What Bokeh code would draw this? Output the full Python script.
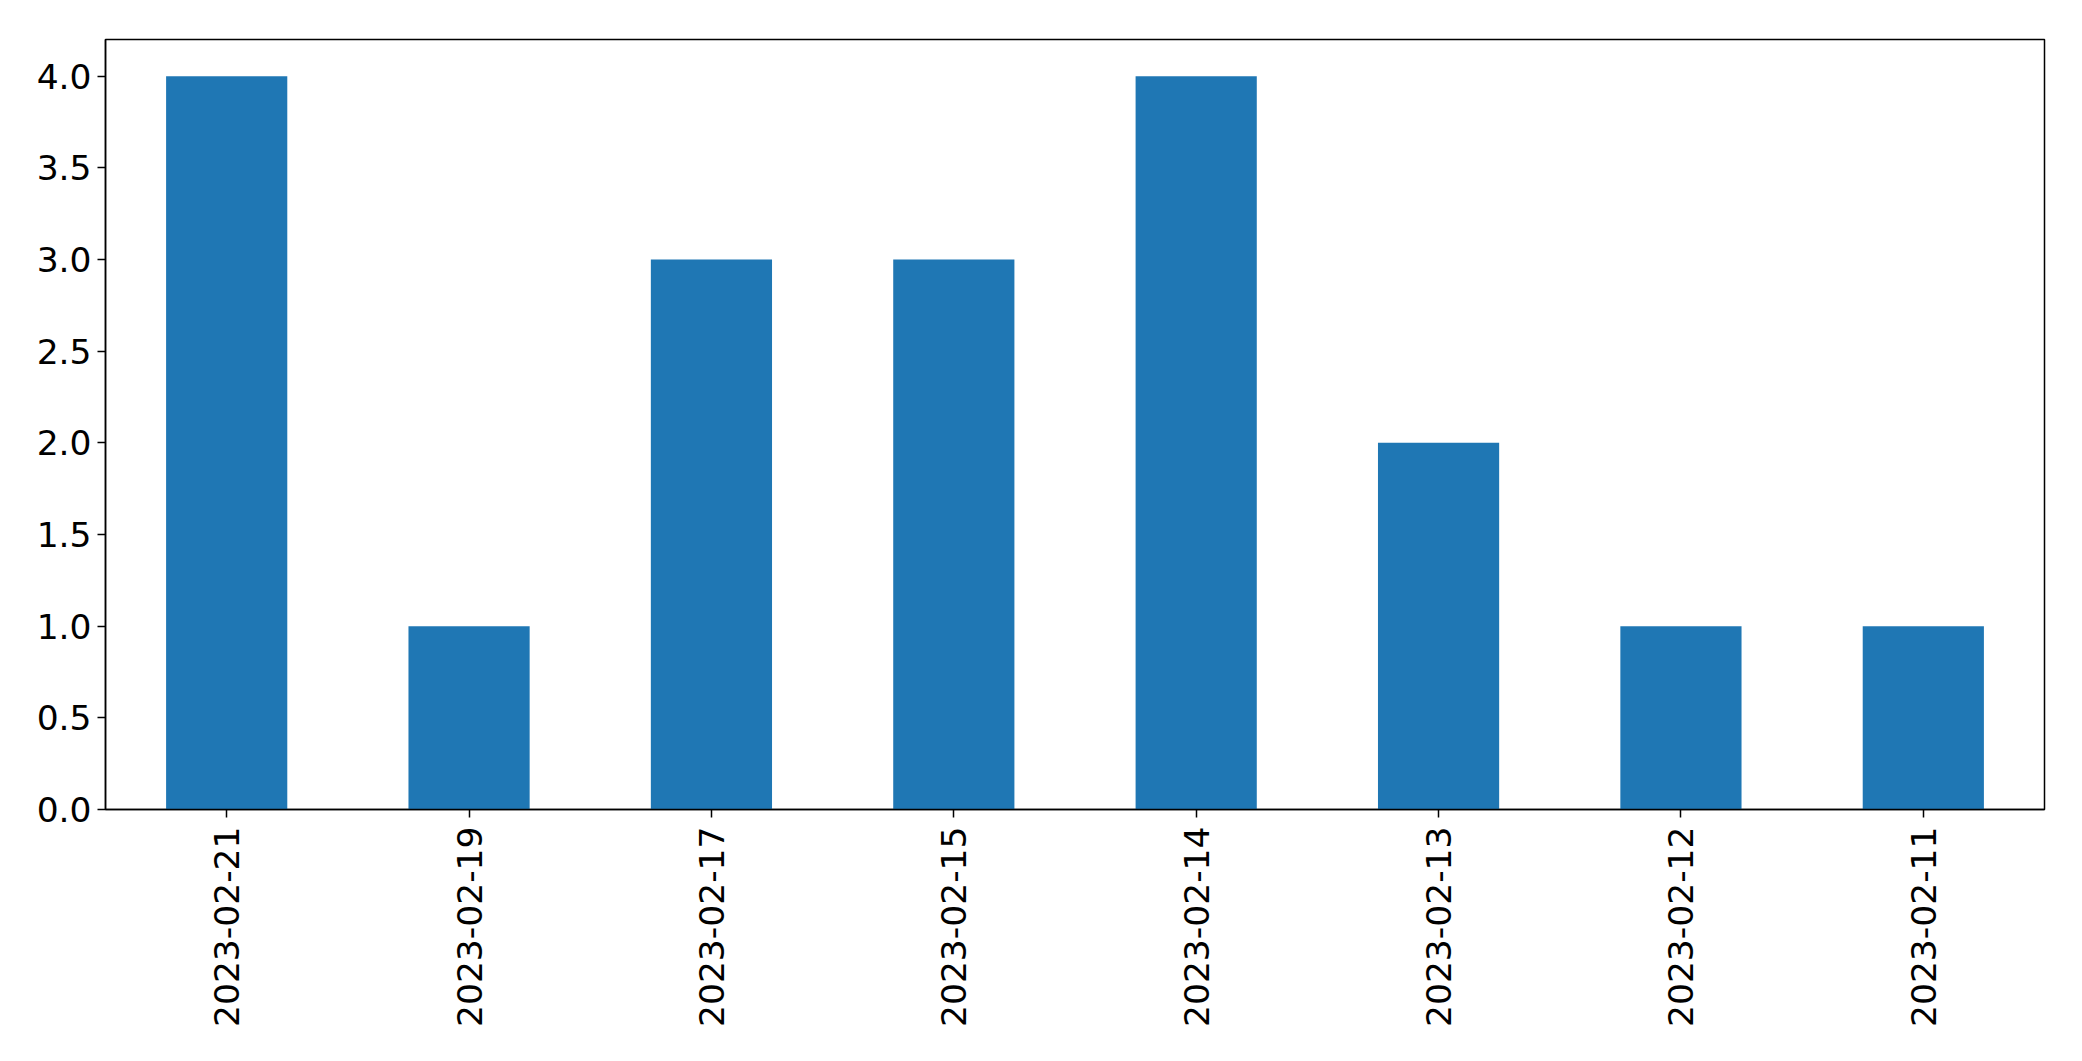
import math
from bokeh.plotting import figure
from bokeh.models import FactorRange, Range1d, FixedTicker, PrintfTickFormatter
from bokeh.embed import file_html
from bokeh.resources import INLINE

dates = ["2023-02-21", "2023-02-19", "2023-02-17", "2023-02-15",
         "2023-02-14", "2023-02-13", "2023-02-12", "2023-02-11"]
counts = [4, 1, 3, 3, 4, 2, 1, 1]
y_ticks = [0.0, 0.5, 1.0, 1.5, 2.0, 2.5, 3.0, 3.5, 4.0]

p = figure(width=2074, height=1053, output_backend="svg", toolbar_location=None,
           x_range=FactorRange(factors=dates, range_padding=0),
           y_range=Range1d(0, 4.2))
p.min_border_left = 105
p.min_border_top = 39
p.min_border_right = 30
p.min_border_bottom = 244

p.vbar(x=dates, top=counts, width=0.5, color="#1f77b4", line_color=None)

p.grid.visible = False
p.outline_line_color = "black"
p.outline_line_width = 1.5

for ax in (p.xaxis, p.yaxis):
    ax.axis_line_color = "black"
    ax.axis_line_width = 1.5
    ax.major_tick_line_color = "black"
    ax.major_tick_line_width = 1.5
    ax.major_tick_in = 0
    ax.major_tick_out = 8
    ax.minor_tick_line_color = None
    ax.major_label_text_font = "DejaVu Sans"
    ax.major_label_text_font_size = "34.5px"
    ax.major_label_text_color = "black"

p.yaxis.ticker = FixedTicker(ticks=y_ticks)
p.yaxis.formatter = PrintfTickFormatter(format="%.1f")
p.yaxis.major_label_standoff = 6
p.xaxis.major_label_orientation = math.pi / 2
p.xaxis.major_label_standoff = 9

open("out.html", "w").write(file_html(p, INLINE))
